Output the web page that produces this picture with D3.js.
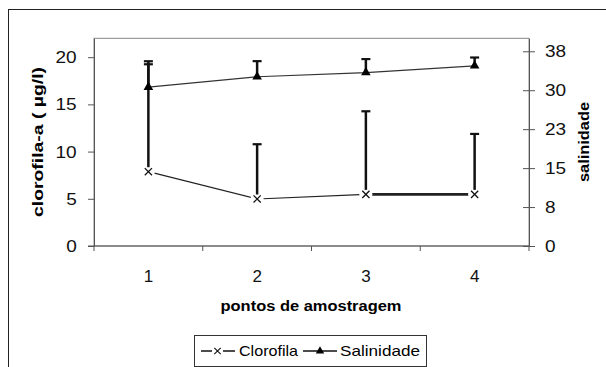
<!DOCTYPE html>
<html>
<head>
<meta charset="utf-8">
<script src="https://cdn.jsdelivr.net/npm/d3@7"></script>
<style>
  body { margin: 0; background: #fff; }
  svg { font-family: Arial, "Liberation Sans", sans-serif; }
</style>
</head>
<body>
<svg id="svg" width="606" height="367"></svg>
<script>
// pontos de amostragem
const categorias = ['1', '2', '3', '4']
// clorofila-a (ug/l) e desvio (so para cima)
const clorofila = [7.87, 4.98, 5.47, 5.47]
const clorofilaErro = [11.7, 5.8, 8.8, 6.4]
// salinidade e desvio
const salinidade = [30.6, 32.6, 33.4, 34.7]
const salinidadeErro = [4.4, 3.0, 2.6, 1.6]
// ticks
const ticksEsq = [0, 5, 10, 15, 20]
const ticksDir = [0, 7.5, 15, 22.5, 30, 37.5]

const svg = d3.select('#svg')

const plot = { left: 94, right: 529, top: 38.3, bottom: 246 }
const sx = 1.12 // texto um pouco esticado na horizontal
// espessura de cada trecho da linha de clorofila (o ultimo sai mais grosso no original)
const trechoLargura = [1.2, 1.2, 2.6]

// moldura externa
svg.append('rect')
    .attr('x', 8.5).attr('y', 9.5)
    .attr('width', 700).attr('height', 400)
    .attr('fill', 'none').attr('stroke', '#222').attr('stroke-width', 1)

const xScale = d3.scaleBand()
    .domain(categorias)
    .range([plot.left, plot.right])
    .padding(0)

const yEsq = d3.scaleLinear().domain([0, 22]).range([plot.bottom, plot.top])
const yDir = d3.scaleLinear().domain([0, 40]).range([plot.bottom, plot.top])

const cx = c => xScale(c) + xScale.bandwidth() / 2

// area do grafico
svg.append('rect')
    .attr('x', plot.left).attr('y', plot.top)
    .attr('width', plot.right - plot.left).attr('height', plot.bottom - plot.top)
    .attr('fill', 'none').attr('stroke', '#888').attr('stroke-width', 1)

// eixo esquerdo
const gEsq = svg.append('g')
    .attr('transform', `translate(${plot.left}, 0)`)
    .call(d3.axisLeft(yEsq).tickValues(ticksEsq).tickSizeInner(6).tickSizeOuter(0))
gEsq.select('.domain').attr('stroke', '#555')
gEsq.selectAll('.tick line').attr('stroke', '#555')
gEsq.selectAll('.tick text')
    .attr('font-size', 17).attr('fill', '#111')
    .attr('x', -17.3 / sx)
    .attr('transform', `scale(${sx},1)`)

// eixo direito (ticks cruzados)
const gDir = svg.append('g')
    .attr('transform', `translate(${plot.right}, 0)`)
    .call(d3.axisRight(yDir).tickValues(ticksDir).tickSizeInner(6).tickSizeOuter(0)
        .tickFormat(d => Math.round(d)))
gDir.select('.domain').attr('stroke', '#555')
gDir.selectAll('.tick line').attr('x1', -6).attr('x2', 6).attr('stroke', '#555')
gDir.selectAll('.tick text')
    .attr('font-size', 17).attr('fill', '#111')
    .attr('x', 16 / sx)
    .attr('transform', `scale(${sx},1)`)

// eixo x
const gX = svg.append('g')
    .attr('transform', `translate(0, ${plot.bottom})`)
    .call(d3.axisBottom(xScale).tickSize(0).tickPadding(0))
gX.select('.domain').remove()
gX.append('line')
    .attr('x1', plot.left - 6).attr('x2', plot.right)
    .attr('stroke', '#555')
gX.selectAll('.sep')
    .data(categorias.map(c => xScale(c)).concat([xScale.range()[1]]))
    .enter().append('line')
    .attr('x1', d => d).attr('x2', d => d)
    .attr('y1', 0).attr('y2', 5)
    .attr('stroke', '#555')
gX.selectAll('.tick text')
    .attr('font-size', 17).attr('fill', '#111')
    .attr('y', 36).attr('dy', 0)

// titulos
svg.append('text').text('pontos de amostragem')
    .attr('x', 311).attr('y', 311)
    .attr('text-anchor', 'middle')
    .attr('font-size', 14).attr('font-weight', 'bold')
    .attr('textLength', 181).attr('lengthAdjust', 'spacingAndGlyphs')

svg.append('text').text('clorofila-a ( µg/l)')
    .attr('transform', 'translate(43, 142) rotate(-90)')
    .attr('text-anchor', 'middle')
    .attr('font-size', 15).attr('font-weight', 'bold')
    .attr('textLength', 150).attr('lengthAdjust', 'spacingAndGlyphs')

svg.append('text').text('salinidade')
    .attr('transform', 'translate(588.5, 142) rotate(-90)')
    .attr('text-anchor', 'middle')
    .attr('font-size', 15).attr('font-weight', 'bold')
    .attr('textLength', 80).attr('lengthAdjust', 'spacingAndGlyphs')

// serie clorofila, trecho a trecho
const ptsEsq = clorofila.map((v, i) => [cx(categorias[i]), yEsq(v)])
d3.pairs(ptsEsq).forEach((p, i) => {
    svg.append('path')
        .attr('d', d3.line()(p))
        .attr('fill', 'none').attr('stroke', '#222')
        .attr('stroke-width', trechoLargura[i])
})

// espaco branco em volta dos x
svg.selectAll('.mask')
    .data(ptsEsq)
    .enter().append('circle')
    .attr('cx', d => d[0]).attr('cy', d => d[1])
    .attr('r', 6.5)
    .attr('fill', '#fff')

// barras de erro
function barrasErro(valores, erros, escala, recuo) {
    const g = svg.append('g')
    valores.forEach((v, i) => {
        const x = cx(categorias[i])
        const yTop = escala(v + erros[i])
        g.append('line')
            .attr('x1', x).attr('x2', x)
            .attr('y1', escala(v) - recuo).attr('y2', yTop)
            .attr('stroke', '#111').attr('stroke-width', 2.5)
        g.append('line')
            .attr('x1', x - 4.5).attr('x2', x + 4.5)
            .attr('y1', yTop).attr('y2', yTop)
            .attr('stroke', '#111').attr('stroke-width', 2.2)
    })
}
barrasErro(clorofila, clorofilaErro, yEsq, 4.5)

// marcadores x
const xMark = (x, y, s) => `M${x - s},${y - s}L${x + s},${y + s}M${x - s},${y + s}L${x + s},${y - s}`
svg.selectAll('.mx')
    .data(ptsEsq)
    .enter().append('path')
    .attr('d', d => xMark(d[0], d[1], 3.6))
    .attr('stroke', '#111').attr('stroke-width', 1.3).attr('fill', 'none')

// serie salinidade
const lineDir = d3.line().x((d, i) => cx(categorias[i])).y(d => yDir(d))
svg.append('path')
    .datum(salinidade)
    .attr('d', lineDir)
    .attr('fill', 'none').attr('stroke', '#333').attr('stroke-width', 1.2)

barrasErro(salinidade, salinidadeErro, yDir, 0)

const tri = d3.symbol().type(d3.symbolTriangle).size(40)
svg.selectAll('.mt')
    .data(salinidade)
    .enter().append('path')
    .attr('d', tri)
    .attr('transform', (d, i) => `translate(${cx(categorias[i])}, ${yDir(d)})`)
    .attr('fill', '#000')

// legenda
const leg = svg.append('g')
leg.append('rect')
    .attr('x', 194.5).attr('y', 335.5)
    .attr('width', 232).attr('height', 31)
    .attr('fill', '#fff').attr('stroke', '#333')
const ly = 351
leg.append('line').attr('x1', 201).attr('x2', 212).attr('y1', ly).attr('y2', ly)
    .attr('stroke', '#111').attr('stroke-width', 1.5)
leg.append('line').attr('x1', 223).attr('x2', 235).attr('y1', ly).attr('y2', ly)
    .attr('stroke', '#111').attr('stroke-width', 1.5)
leg.append('path').attr('d', xMark(217.5, ly, 3.2))
    .attr('stroke', '#111').attr('stroke-width', 1.1).attr('fill', 'none')
leg.append('text').text('Clorofila')
    .attr('x', 239).attr('y', ly).attr('dy', '0.36em')
    .attr('font-size', 15)
    .attr('textLength', 59).attr('lengthAdjust', 'spacingAndGlyphs')
leg.append('line').attr('x1', 303).attr('x2', 337).attr('y1', ly).attr('y2', ly)
    .attr('stroke', '#111').attr('stroke-width', 1.5)
leg.append('path').attr('d', d3.symbol().type(d3.symbolTriangle).size(30))
    .attr('transform', `translate(320, ${ly})`)
    .attr('fill', '#000')
leg.append('text').text('Salinidade')
    .attr('x', 340).attr('y', ly).attr('dy', '0.36em')
    .attr('font-size', 15)
    .attr('textLength', 80).attr('lengthAdjust', 'spacingAndGlyphs')
</script>
</body>
</html>
